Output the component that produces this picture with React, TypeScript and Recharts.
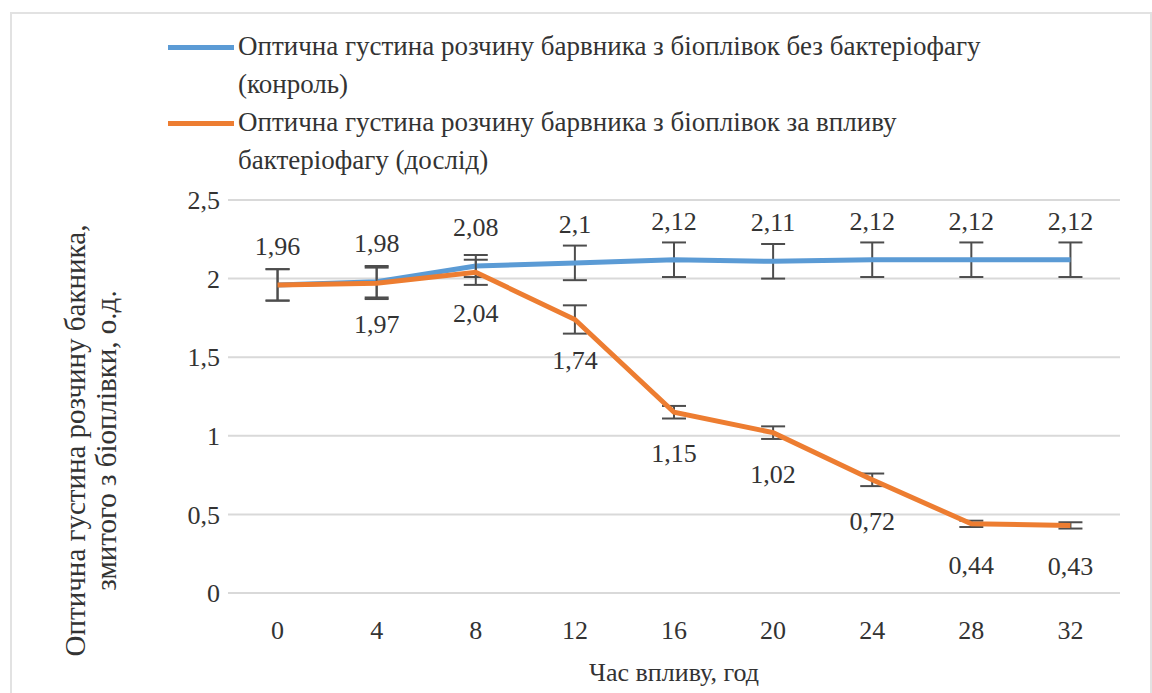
import {
    ComposedChart, Line, XAxis, YAxis, CartesianGrid, ErrorBar, LabelList, Label
} from 'recharts';

const hours = ['0', '4', '8', '12', '16', '20', '24', '28', '32'];
const controlValues = [1.96, 1.98, 2.08, 2.1, 2.12, 2.11, 2.12, 2.12, 2.12];
const controlErrors = [0.1, 0.1, 0.07, 0.11, 0.11, 0.11, 0.11, 0.11, 0.11];
const phageValues = [1.96, 1.97, 2.04, 1.74, 1.15, 1.02, 0.72, 0.44, 0.43];
const phageErrors = [0.1, 0.1, 0.08, 0.09, 0.04, 0.04, 0.04, 0.02, 0.02];
const yTicks = [0, 0.5, 1, 1.5, 2, 2.5];

// рядки легенди так, як вони переносяться в оригіналі
const controlLegend = ['Оптична густина розчину барвника з біоплівок без бактеріофагу', '(конроль)'];
const phageLegend = ['Оптична густина розчину барвника з біоплівок за впливу', 'бактеріофагу (дослід)'];

const data = hours.map((h, i) => ({
    hour: h,
    control: controlValues[i],
    controlErr: controlErrors[i],
    phage: phageValues[i],
    phageErr: phageErrors[i],
}));

const FONT = "'Liberation Serif', 'DejaVu Serif', serif";
const TEXT = '#333333';
const BLUE = '#5B9BD5';
const ORANGE = '#ED7D31';

const comma = (v: number) => String(v).replace('.', ',');

// підпис осі Y у два рядки
function YTitle(props: any) {
    const vb = props.viewBox || {};
    const cy = vb.y + vb.height / 2 + 44;
    return (
        <text transform={`translate(85, ${cy}) rotate(-90)`} textAnchor="middle" fill={TEXT}
            style={{ fontFamily: FONT, fontSize: 29 }}>
            <tspan x={0} dy={0}>Оптична густина розчину бакника,</tspan>
            <tspan x={0} dy={31}>змитого з біоплівки, о.д.</tspan>
        </text>
    );
}

function PhageLabel(props: any) {
    const { x, y, value, index } = props;
    if (index === 0) return null;
    return (
        <text x={x} y={y + 50} textAnchor="middle" fill={TEXT} style={{ fontFamily: FONT, fontSize: 26 }}>
            {comma(value)}
        </text>
    );
}

function ControlLabel(props: any) {
    const { x, y, value } = props;
    return (
        <text x={x} y={y - 30} textAnchor="middle" fill={TEXT} style={{ fontFamily: FONT, fontSize: 26 }}>
            {comma(value)}
        </text>
    );
}

export default function App() {
    const legendRow = (color: string, lines: string[]) => (
        <div style={{ display: 'flex', alignItems: 'flex-start' }}>
            <div style={{ width: 66, height: 5, background: color, marginTop: 18, flexShrink: 0 }} />
            <div style={{ paddingLeft: 4, whiteSpace: 'nowrap' }}>
                {lines.map((l) => <div key={l}>{l}</div>)}
            </div>
        </div>
    );

    return (
        <div style={{ position: 'absolute', left: 0, top: 0, width: 1152, height: 693, background: '#fff', overflow: 'hidden' }}>
            {/* рамка діаграми */}
            <div style={{ position: 'absolute', left: 10, top: 12, width: 1138, height: 700, border: '2px solid #e2e2e2' }} />

            {/* легенда */}
            <div style={{
                position: 'absolute', left: 168, top: 27, fontFamily: FONT, fontSize: 27,
                lineHeight: '38px', color: TEXT
            }}>
                {legendRow(BLUE, controlLegend)}
                {legendRow(ORANGE, phageLegend)}
            </div>

            <div style={{ position: 'absolute', left: 0, top: 0 }}>
                <ComposedChart width={1152} height={693} data={data}
                    margin={{ top: 200, right: 32, bottom: 70, left: 158 }}>
                    <CartesianGrid vertical={false} stroke="#d9d9d9" strokeWidth={2} />
                    <XAxis dataKey="hour" scale="band" tickLine={false} axisLine={{ stroke: '#d9d9d9', strokeWidth: 2 }}
                        tickMargin={22} tick={{ fill: TEXT, fontSize: 26, fontFamily: FONT }}>
                        <Label value="Час впливу, год" position="bottom" offset={40} fill={TEXT}
                            style={{ fontFamily: FONT, fontSize: 26 }} />
                    </XAxis>
                    <YAxis type="number" domain={[0, 2.5]} ticks={yTicks} width={70}
                        axisLine={false} tickLine={false} tickFormatter={comma}
                        tick={{ fill: TEXT, fontSize: 26, fontFamily: FONT }}>
                        <Label content={YTitle} />
                    </YAxis>
                    <Line dataKey="control" name={controlLegend.join(' ')} stroke={BLUE} strokeWidth={5}
                        dot={false} activeDot={false} isAnimationActive={false}>
                        <ErrorBar dataKey="controlErr" width={12} strokeWidth={2} stroke="#4d4d4d" />
                        <LabelList dataKey="control" content={ControlLabel} />
                    </Line>
                    <Line dataKey="phage" name={phageLegend.join(' ')} stroke={ORANGE} strokeWidth={5}
                        dot={false} activeDot={false} isAnimationActive={false}>
                        <ErrorBar dataKey="phageErr" width={12} strokeWidth={2} stroke="#4d4d4d" />
                        <LabelList dataKey="phage" content={PhageLabel} />
                    </Line>
                </ComposedChart>
            </div>
        </div>
    );
}
